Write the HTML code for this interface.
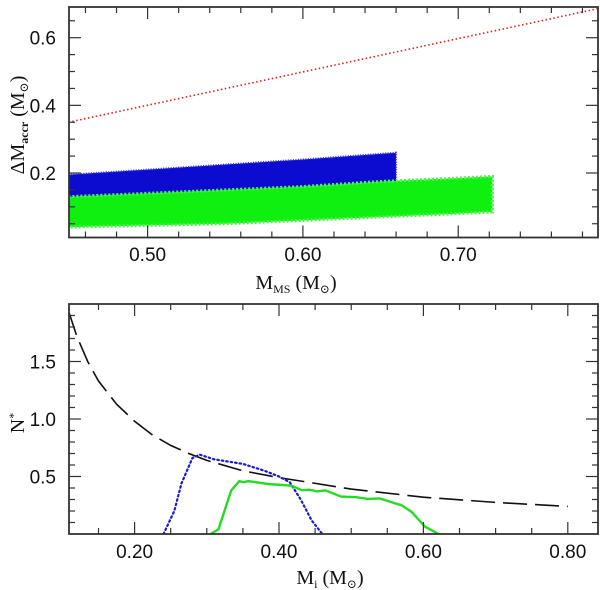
<!DOCTYPE html>
<html><head><meta charset="utf-8"><style>
html,body{margin:0;padding:0;background:#fff;}
svg{display:block;font-family:"Liberation Serif","DejaVu Serif",serif;}
.tl{font-family:"Liberation Sans","DejaVu Sans",sans-serif;}
</style></head><body>
<svg id="chart" width="600" height="590" xmlns="http://www.w3.org/2000/svg">
<g id="top"></g>
<g id="bot"></g>
</svg>
<script>
// ---- top panel data ----
const topXTicks = [0.50, 0.60, 0.70];
const topYTicks = [0.2, 0.4, 0.6];
const redX = [0.449, 0.79];
const redY = [0.35, 0.686];
const blueBandX = [0.449, 0.50, 0.55, 0.60, 0.66];
const blueLow = [0.12, 0.13, 0.145, 0.16, 0.175];
const blueHigh = [0.195, 0.21, 0.225, 0.24, 0.26];
const greenBandX = [0.449, 0.50, 0.55, 0.60, 0.65, 0.70, 0.722];
const greenLow = [0.04, 0.045, 0.05, 0.06, 0.07, 0.08, 0.085];
const greenHigh = [0.13, 0.14, 0.15, 0.16, 0.175, 0.185, 0.19];
// ---- bottom panel data ----
const botXTicks = [0.20, 0.40, 0.60, 0.80];
const botYTicks = [0.5, 1.0, 1.5];
const dashX = [0.109, 0.12, 0.135, 0.15, 0.175, 0.2, 0.225, 0.25, 0.275, 0.3, 0.35, 0.4, 0.5, 0.6, 0.7, 0.8];
const dashY = [1.93, 1.72, 1.5, 1.33, 1.13, 0.98, 0.86, 0.77, 0.7, 0.64, 0.55, 0.49, 0.39, 0.32, 0.275, 0.24];
const blueX = [0.24, 0.255, 0.265, 0.28, 0.29, 0.31, 0.33, 0.35, 0.38, 0.40, 0.415, 0.43, 0.445, 0.46];
const blueY = [0, 0.2, 0.44, 0.66, 0.69, 0.65, 0.63, 0.61, 0.55, 0.5, 0.45, 0.3, 0.12, 0];
const greenX = [0.305, 0.316, 0.334, 0.345, 0.351, 0.357, 0.385, 0.417, 0.432, 0.442, 0.453, 0.464, 0.486, 0.507, 0.523, 0.539, 0.57, 0.584, 0.602, 0.621];
const greenY = [0, 0.04, 0.38, 0.46, 0.45, 0.46, 0.435, 0.42, 0.38, 0.385, 0.37, 0.38, 0.325, 0.32, 0.305, 0.31, 0.25, 0.19, 0.065, 0];

const NS = "http://www.w3.org/2000/svg";
function mk(parent, tag, attrs, text){
  const e = document.createElementNS(NS, tag);
  for (const k in attrs) e.setAttribute(k, attrs[k]);
  if (text !== undefined) e.textContent = text;
  parent.appendChild(e);
  return e;
}
function scale(d0,d1,r0,r1){ return v => r0 + (v-d0)/(d1-d0)*(r1-r0); }

const L = 69, R = 598;
const T1 = 7, B1 = 237.5;
const T2 = 304, B2 = 534;
const tx = scale(0.4494, 0.790, L, R);
const ty = scale(0.6, 0.2, 37.7, 173);
const bx = scale(0.40, 0.60, 279, 423.4);
const by = scale(0, 1.5, 534, 361.5);

function ticksPanel(g, T, B, xs, ys, xMinor, yMinor, xd, yd){
  for (let v = xd[0]; v <= xd[1] + 1e-9; v += xMinor){
    const vv = Math.round(v*1000)/1000;
    const p = xs(vv); if (p < L+1 || p > R-1) continue;
    const major = Math.abs(vv/xd[2] - Math.round(vv/xd[2])) < 1e-6;
    const len = major ? 12 : 6;
    const t1 = mk(g,'line',{x1:p,y1:B,x2:p,y2:B-len,stroke:'#333','stroke-width':1.2});
    
    
    const t2 = mk(g,'line',{x1:p,y1:T,x2:p,y2:T+len,stroke:'#333','stroke-width':1.2});
    
    
  }
  for (let v = yd[0]; v <= yd[1] + 1e-9; v += yMinor){
    const vv = Math.round(v*1000)/1000;
    const p = ys(vv); if (p < T+1 || p > B-1) continue;
    const major = Math.abs(vv/yd[2] - Math.round(vv/yd[2])) < 1e-6;
    const len = major ? 12 : 6;
    const t1 = mk(g,'line',{x1:L,y1:p,x2:L+len,y2:p,stroke:'#333','stroke-width':1.2});
    
    
    const t2 = mk(g,'line',{x1:R,y1:p,x2:R-len,y2:p,stroke:'#333','stroke-width':1.2});
    
    
  }
}

// ===== TOP PANEL =====
const gt = document.getElementById('top');
const defs = mk(gt,'defs',{});
const cp1 = mk(defs,'clipPath',{id:'c1'});
mk(cp1,'rect',{x:L,y:T1,width:R-L,height:B1-T1});
const cp2 = mk(defs,'clipPath',{id:'c2'});
mk(cp2,'rect',{x:L,y:T2,width:R-L,height:B2-T2});

function band(xs, lo, hi, sx, sy){
  let pts = [];
  for (let i=0;i<xs.length;i++) pts.push(sx(xs[i])+','+sy(hi[i]));
  for (let i=xs.length-1;i>=0;i--) pts.push(sx(xs[i])+','+sy(lo[i]));
  return pts.join(' ');
}
const gClip1 = mk(gt,'g',{'clip-path':'url(#c1)'});
const bb = mk(gClip1,'polygon',{points:band(blueBandX,blueLow,blueHigh,tx,ty),fill:'#0c0cd0',stroke:'#2a2ae0','stroke-width':2,'stroke-dasharray':'1 1.5'});


const gb = mk(gClip1,'polygon',{points:band(greenBandX,greenLow,greenHigh,tx,ty),fill:'#10f010',stroke:'#55ee55','stroke-width':3,'stroke-dasharray':'2 2'});


const red = mk(gClip1,'line',{x1:tx(redX[0]),y1:ty(redY[0]),x2:tx(redX[1]),y2:ty(redY[1]),stroke:'#e02020','stroke-width':1.6,'stroke-dasharray':'1.5 2.5'});



ticksPanel(gt, T1, B1, tx, ty, 0.02, 0.05, [0.44,0.8,0.1], [0,0.7,0.2]);
const f1 = mk(gt,'rect',{x:L,y:T1,width:R-L,height:B1-T1,fill:'none',stroke:'#333','stroke-width':1.8});


topXTicks.forEach(v=>{
  const t = mk(gt,'text',{class:'tl',x:tx(v),y:261,'text-anchor':'middle','font-size':19,fill:'#111'},v.toFixed(2));
  
  
});
topYTicks.forEach(v=>{
  const t = mk(gt,'text',{class:'tl',x:56,y:ty(v)+7,'text-anchor':'end','font-size':19,fill:'#111'},v.toFixed(1));
  
  
});
const xt1 = mk(gt,'text',{x:296,y:289,'text-anchor':'middle','font-size':20,fill:'#111'});
xt1.innerHTML = 'M<tspan font-size="12" dy="4">MS</tspan><tspan dy="-4">  (M</tspan><tspan font-size="12" dy="4">⊙</tspan><tspan dy="-4">)</tspan>';


const yt1 = mk(gt,'text',{x:0,y:0,'text-anchor':'middle','font-size':20,fill:'#111',transform:'translate(24,125) rotate(-90)'});
yt1.innerHTML = 'ΔM<tspan font-size="12" dy="4" font-weight="bold">accr</tspan><tspan dy="-4">  (M</tspan><tspan font-size="12" dy="4">⊙</tspan><tspan dy="-4">)</tspan>';



// ===== BOTTOM PANEL =====
const gbt = document.getElementById('bot');
const gClip2 = mk(gbt,'g',{'clip-path':'url(#c2)'});
function path(xs, ys, sx, sy){ return xs.map((v,i)=>(i?'L':'M')+sx(v).toFixed(1)+','+sy(ys[i]).toFixed(1)).join(' '); }
const dl = mk(gClip2,'path',{d:path(dashX,dashY,bx,by),fill:'none',stroke:'#111','stroke-width':1.6,'stroke-dasharray':'24 8'});


const bl = mk(gClip2,'path',{d:path(blueX,blueY,bx,by),fill:'none',stroke:'#1a1ad0','stroke-width':2.2,'stroke-dasharray':'1.5 3','stroke-linecap':'round'});


const gl = mk(gClip2,'path',{d:path(greenX,greenY,bx,by),fill:'none',stroke:'#22dd22','stroke-width':2.4});



ticksPanel(gbt, T2, B2, bx, by, 0.05, 0.1, [0.1,0.85,0.2], [0,2.0,0.5]);
const f2 = mk(gbt,'rect',{x:L,y:T2,width:R-L,height:B2-T2,fill:'none',stroke:'#333','stroke-width':1.8});


botXTicks.forEach(v=>{
  const t = mk(gbt,'text',{class:'tl',x:bx(v),y:558,'text-anchor':'middle','font-size':19,fill:'#111'},v.toFixed(2));
  
  
});
botYTicks.forEach(v=>{
  const t = mk(gbt,'text',{class:'tl',x:56,y:by(v)+7,'text-anchor':'end','font-size':19,fill:'#111'},v.toFixed(1));
  
  
});
const xt2 = mk(gbt,'text',{x:330,y:584,'text-anchor':'middle','font-size':20,fill:'#111'});
xt2.innerHTML = 'M<tspan font-size="12" dy="4">i</tspan><tspan dy="-4">  (M</tspan><tspan font-size="12" dy="4">⊙</tspan><tspan dy="-4">)</tspan>';


const yt2 = mk(gbt,'text',{x:0,y:0,'text-anchor':'middle','font-size':20,fill:'#111',transform:'translate(24,423) rotate(-90)'});
yt2.innerHTML = 'N<tspan font-size="12" dy="-7">*</tspan>';


</script>
</body></html>
